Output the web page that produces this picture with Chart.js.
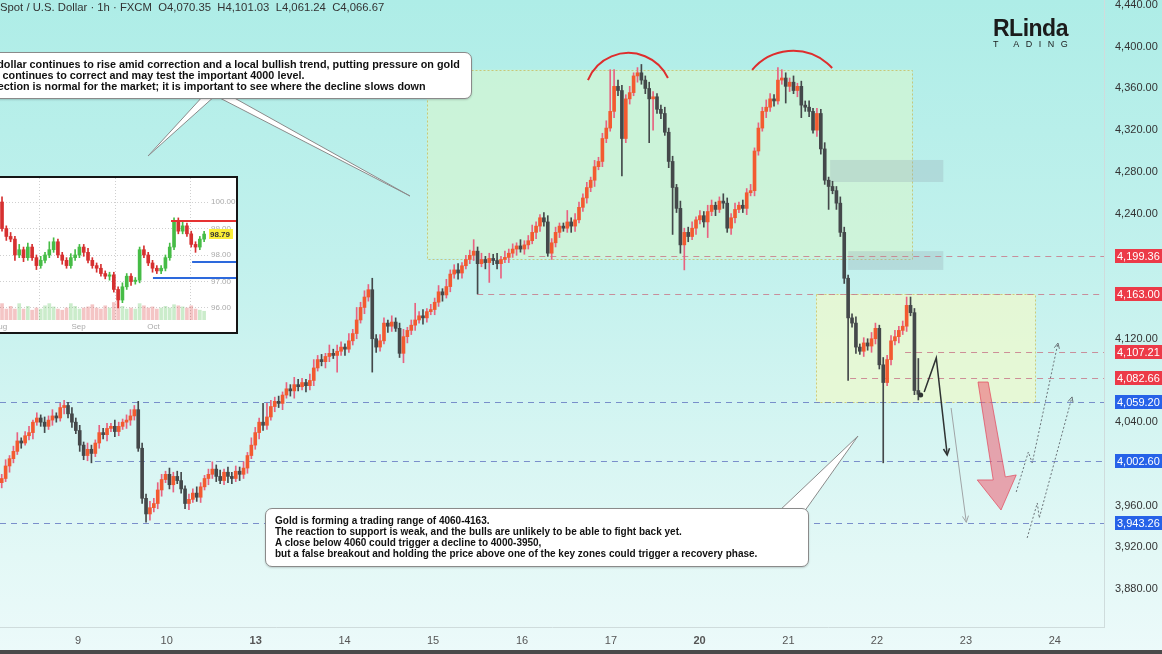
<!DOCTYPE html>
<html>
<head>
<meta charset="utf-8">
<script src="https://cdn.jsdelivr.net/npm/chart.js@4.4.1/dist/chart.umd.min.js"></script>
<style>
html, body { margin: 0; padding: 0; }
body {
    width: 1162px; height: 654px; overflow: hidden; position: relative;
    background: linear-gradient(180deg, #aeede7 0%, #c2f1ed 40%, #e3f8f6 85%, #ecfafa 100%);
    font-family: Arial, "Liberation Sans", sans-serif;
}
#main { position: absolute; left: 0; top: 0; }
#title { position: absolute; left: 0; top: 1px; font-size: 11.3px; color: #333; white-space: pre; }
.callout {
    position: absolute; background: #fff; border: 1px solid #8a8a8a; border-radius: 7px;
    box-shadow: 0 1px 2px rgba(0,0,0,0.18); font-weight: bold; line-height: 11px;
    color: #111; white-space: pre;
}
#note1 { left: -35px; top: 52px; width: 487px; height: 33px; padding: 6px 9px 6px 9px; font-size: 10.8px; }
#note2 { left: 265px; top: 508px; width: 524px; height: 44px; padding: 6px 9px 7px 9px; font-size: 10px; }
#inset { position: absolute; left: -2px; top: 176px; width: 236px; height: 154px; border: 2px solid #151515; background: #fff; }
#inset canvas { position: absolute; left: 0; top: 0; }
#logo { position: absolute; left: 993px; top: 15px; color: #1b1b1b; }
#logo .big { font-size: 23px; font-weight: bold; letter-spacing: -0.5px; }
#logo .small { font-size: 9px; letter-spacing: 6.5px; margin-top: -3px; }
#strip { position: absolute; left: 0; top: 650px; width: 1162px; height: 4px; background: #4a4a4a; }
</style>
</head>
<body>
<canvas id="main" width="1162" height="654"></canvas>
<div id="title">Spot / U.S. Dollar · 1h · FXCM  O4,070.35  H4,101.03  L4,061.24  C4,066.67</div>
<div id="inset"><canvas id="dxy" width="236" height="154"></canvas></div>
<div class="callout" id="note1">The dollar continues to rise amid correction and a local bullish trend, putting pressure on gold
Gold continues to correct and may test the important 4000 level.
Correction is normal for the market; it is important to see where the decline slows down</div>
<div class="callout" id="note2">Gold is forming a trading range of 4060-4163.
The reaction to support is weak, and the bulls are unlikely to be able to fight back yet.
A close below 4060 could trigger a decline to 4000-3950,
but a false breakout and holding the price above one of the key zones could trigger a recovery phase.</div>
<div id="logo"><div class="big">RLinda</div><div class="small">T  ADING</div></div>
<div id="strip"></div>

<script>
// hourly candles, index 0 = first bar of the 9th
const startIndex = -17;
const firstOpen = 3982;
const closes = [
    3986, 3998, 4005, 4012, 4022, 4020, 4027, 4030, 4040, 4044,
    4040, 4036, 4042, 4046, 4044, 4054, 4056, 4048, 4040, 4032,
    4018, 4008, 4014, 4010, 4020, 4030, 4028, 4034, 4036, 4031,
    4036, 4040, 4042, 4046, 4052, 4015, 3967, 3952, 3958, 3962,
    3975, 3985, 3990, 3980, 3988, 3984, 3976, 3962, 3966, 3972,
    3968, 3978, 3986, 3990, 3995, 3988, 3984, 3992, 3988, 3986,
    3993, 3990, 3996, 4008, 4018, 4030, 4040, 4037, 4045, 4055,
    4060, 4058, 4066, 4072, 4070, 4076, 4074, 4078, 4075, 4080,
    4092, 4100, 4098, 4103, 4106, 4104, 4108, 4112, 4110, 4118,
    4125, 4138, 4150, 4160, 4167, 4120, 4112, 4118, 4135, 4132,
    4136, 4130, 4106, 4122, 4128, 4133, 4138, 4142, 4140, 4146,
    4148, 4155, 4165, 4162, 4170, 4182, 4186, 4183, 4190, 4196,
    4200, 4204, 4192, 4196, 4193, 4197, 4195, 4192, 4196, 4198,
    4202, 4206, 4209, 4206, 4210, 4214, 4222, 4228, 4236, 4232,
    4202, 4212, 4222, 4228, 4226, 4232, 4228, 4234, 4246, 4255,
    4265, 4272, 4285, 4290, 4312, 4322, 4338, 4362, 4358, 4312,
    4350, 4356, 4372, 4375, 4368, 4360, 4350, 4352, 4340, 4336,
    4318, 4290, 4265, 4245, 4210, 4222, 4218, 4226, 4234, 4238,
    4232, 4242, 4248, 4244, 4252, 4250, 4226, 4236, 4244, 4248,
    4245, 4260, 4262, 4300, 4322, 4338, 4342, 4350, 4348, 4368,
    4370, 4362, 4366, 4358, 4362, 4344, 4342, 4338, 4320, 4336,
    4302, 4272, 4266, 4262, 4250, 4222, 4178, 4140, 4135, 4112,
    4108, 4116, 4113, 4120, 4130, 4095, 4078, 4100, 4118, 4122,
    4128, 4132, 4152, 4145, 4070.35, 4066.67
];
// wick length above the body top / below the body bottom
const wickUp = [
    4, 6, 3, 5, 8, 3, 4, 6, 2, 5,   3, 5, 4, 6, 3, 4, 5, 3, 6, 4,
    5, 3, 6, 4, 3, 7, 4, 5, 3, 6,   4, 3, 5, 6, 4, 8, 5, 4, 6, 5,
    7, 5, 3, 6, 4, 5, 8, 3, 5, 4,   6, 4, 3, 5, 7, 4, 6, 3, 5, 4,
    5, 4, 6, 3, 7, 5, 4, 18, 13, 6, 4, 5, 3, 6, 4, 7, 5, 4, 3, 6,
    8, 4, 5, 3, 8, 4, 6, 5, 3, 7,   4, 12, 5, 6, 5, 11, 4, 6, 5, 3,
    6, 4, 5, 7, 3, 5, 16, 4, 6, 3,  5, 4, 6, 3, 7, 4, 5, 6, 3, 4,
    5, 11, 4, 6, 3, 5, 4, 7, 3, 6,  4, 5, 3, 6, 4, 5, 7, 4, 3, 5,
    6, 4, 5, 3, 3, 11, 4, 6, 5, 4,  5, 3, 6, 4, 5, 7, 40, 16, 6, 5,
    4, 6, 3, 5, 8, 4, 6, 5, 3, 4,   6, 4, 5, 3, 7, 4, 5, 6, 3, 5,
    4, 6, 5, 3, 4, 7, 5, 4, 6, 3,   5, 4, 6, 3, 5, 4, 7, 5, 4, 12,
    8, 5, 4, 6, 3, 5, 4, 6, 3, 5,   4, 6, 3, 5, 4, 6, 5, 3, 4, 6,
    3, 5, 4, 6, 5, 3, 7, 4, 5, 6,   4, 5, 8, 8, 4, 30.7
];
const wickDown = [
    5, 3, 6, 4, 3, 5, 2, 4, 6, 3,   4, 6, 3, 5, 4, 3, 6, 4, 5, 3,
    6, 4, 5, 9, 3, 5, 4, 6, 3, 5,   4, 3, 6, 5, 4, 3, 5, 8, 6, 4,
    5, 6, 3, 4, 7, 3, 4, 5, 6, 3,   4, 5, 3, 6, 4, 5, 3, 4, 6, 5,
    3, 6, 4, 5, 3, 4, 6, 5, 4, 3,   5, 4, 6, 3, 5, 7, 4, 3, 6, 4,
    5, 3, 4, 6, 5, 3, 16, 4, 6, 3,  4, 5, 3, 6, 4, 32, 5, 4, 3, 6,
    5, 3, 4, 9, 6, 4, 5, 3, 6, 4,   3, 5, 4, 6, 3, 5, 4, 6, 5, 3,
    4, 5, 29, 3, 6, 19, 4, 5, 14, 3, 5, 4, 6, 3, 5, 4, 3, 6, 5, 4,
    3, 6, 4, 5, 3, 4, 6, 5, 3, 4,   5, 4, 6, 3, 5, 4, 3, 6, 5, 36,
    4, 5, 3, 6, 4, 5, 42, 30, 4, 5, 3, 6, 45, 4, 8, 24, 5, 3, 6, 4,
    5, 15, 4, 6, 3, 5, 4, 6, 5, 3,  4, 6, 3, 5, 4, 3, 6, 4, 5, 3,
    4, 16, 5, 3, 6, 12, 4, 5, 3, 6, 5, 4, 22, 3, 6, 4, 5, 60, 4, 6,
    3, 5, 4, 6, 5, 4, 77, 3, 5, 4,  6, 4, 5, 3, 4, 5.4
];

// axis
const dayLabels = ['9', '10', '13', '14', '15', '16', '17', '20', '21', '22', '23', '24'];
const dayTicks = [2.6, 25.3, 48.1, 70.9, 93.6, 116.4, 139.2, 161.9, 184.7, 207.4, 230.2, 253.0];
const boldDays = ['13', '20'];
const priceTicks = [3880, 3920, 3960, 4000, 4040, 4080, 4120, 4160, 4200, 4240, 4280, 4320, 4360, 4400, 4440];
const hiddenPriceTicks = [4200, 4160, 4080, 4000];
const xMin = -17.44, xMax = 265.6;
const yMin = 3843.6, yMax = 4444.8;

// drawn levels and zones
const levels = [
    { price: 4199.36, from: 118, kind: 'red' },
    { price: 4163.00, from: 104.9, kind: 'red' },
    { price: 4107.21, from: 214.6, kind: 'red' },
    { price: 4082.66, from: 200.5, kind: 'red' },
    { price: 4059.20, from: xMin, kind: 'blue' },
    { price: 4002.60, from: 6.9, kind: 'blue' },
    { price: 3943.26, from: xMin, kind: 'blue' }
];
const zoneBounds = [
    { from: 92, to: 216.4, top: 4378, bottom: 4197, fill: 'rgba(214,246,206,0.62)', line: 'rgba(200,195,110,0.9)' },
    { from: 191.8, to: 248, top: 4163, bottom: 4059, fill: 'rgba(236,249,206,0.78)', line: 'rgba(205,200,110,0.9)' },
    { from: 195.4, to: 224.4, top: 4291.4, bottom: 4270.3, fill: 'rgba(150,168,178,0.3)' },
    { from: 200, to: 224.4, top: 4204, bottom: 4186, fill: 'rgba(150,168,178,0.3)' }
];
const topArcs = [
    [[133.3, 4368], [143.6, 4394], [153.8, 4370]],
    [[175.4, 4377.7], [185.6, 4396], [195.9, 4379.6]]
];
const blackPath = [[219.5, 4069], [222.6, 4101.6], [225.4, 4008.6]];
const lastDot = [218.6, 4066];
const grayPath = [[226.4, 4053.6], [230.3, 3944]];
const dottedPaths = [
    [[243.1, 3973.1], [246.2, 4011.4], [247.2, 4000.9], [253.8, 4115.9]],
    [[245.9, 3929], [248.5, 3962.5], [249.0, 3948.1], [257.4, 4064.2]]
];
const pinkArrow = [[233.3, 4078.5], [235.9, 4078.5], [240.3, 3987.5], [243.1, 3989.4], [239.2, 3955.8], [233.1, 3984.6], [237.2, 3984.6]];

// DXY inset (daily)
const dxyFirstOpen = 100.0;
const dxyCloses = [
    99.0, 98.7, 98.6, 98.0, 98.2, 97.9, 98.3, 97.9, 97.6, 97.8,
    98.0, 98.2, 98.5, 98.0, 97.8, 97.6, 97.9, 98.0, 98.3, 98.1,
    97.8, 97.6, 97.5, 97.3, 97.2, 97.25, 96.7, 96.3, 96.8, 97.2,
    97.0, 97.05, 98.2, 98.0, 97.7, 97.5, 97.4, 97.5, 97.9, 98.3,
    99.3, 98.9, 99.1, 98.8, 98.4, 98.3, 98.6, 98.79
];
const dxyWickUp = [
    0.2, 0.1, 0.15, 0.1, 0.2, 0.1, 0.15, 0.1, 0.1, 0.15, 0.1, 0.3, 0.15, 0.1, 0.1, 0.1, 0.15, 0.2, 0.1, 0.1,
    0.15, 0.1, 0.1, 0.15, 0.1, 0.1, 0.1, 0.1, 0.15, 0.1, 0.1, 0.1, 0.1, 0.15, 0.1, 0.1, 0.1, 0.1, 0.1, 0.15,
    0.1, 0.1, 0.15, 0.1, 0.1, 0.1, 0.1, 0.1
];
const dxyWickDown = [
    0.1, 0.15, 0.1, 0.2, 0.1, 0.15, 0.1, 0.1, 0.15, 0.1, 0.1, 0.1, 0.1, 0.1, 0.15, 0.1, 0.1, 0.1, 0.1, 0.15,
    0.1, 0.1, 0.15, 0.1, 0.1, 0.15, 0.1, 0.3, 0.1, 0.1, 0.15, 0.1, 0.1, 0.1, 0.1, 0.15, 0.1, 0.1, 0.1, 0.1,
    0.1, 0.1, 0.1, 0.1, 0.1, 0.2, 0.1, 0.1
];
const dxyVolumes = [
    3, 2, 2.5, 2, 3, 2, 2.5, 1.8, 2.2, 2, 2.6, 3, 2.4, 2, 1.8, 2.2, 3, 2.5, 2, 2.2,
    2.4, 2.8, 2.2, 2, 2.6, 2.2, 3.2, 3.5, 2.5, 2, 2.2, 2, 3, 2.6, 2.2, 2.4, 2, 2.2, 2.5, 2.2,
    2.8, 2.6, 2.4, 2.2, 2.6, 2, 1.8, 1.6
];
const monthLabels = ['Aug', 'Sep', 'Oct'];
const monthTicks = [-0.45, 17.8, 35.2];
const dxyTicks = [96, 97, 98, 99, 100];
const dxyLines = [
    { value: 99.29, from: 39.3, color: 'rgb(230,50,50)' },
    { value: 97.75, from: 44.2, color: 'rgb(45,105,220)' },
    { value: 97.14, from: 35.1, color: 'rgb(45,105,220)' }
];

// build candle bars from OHLC
function buildCandles(first, cl, up, down, x0, upBody, downBody, upWick, downWick) {
    const bodies = [], wicks = [], bodyColors = [], wickColors = [];
    cl.forEach((c, k) => {
        const o = k === 0 ? first : cl[k - 1];
        const rising = c >= o;
        bodies.push({ x: x0 + k, y: [o, c] });
        wicks.push({ x: x0 + k, y: [Math.min(o, c) - down[k], Math.max(o, c) + up[k]] });
        bodyColors.push(rising ? upBody : downBody);
        wickColors.push(rising ? upWick : downWick);
    });
    return { bodies, wicks, bodyColors, wickColors };
}

function fmtPrice(v) {
    return v.toLocaleString('en-US', { minimumFractionDigits: 2, maximumFractionDigits: 2 });
}

// no extra room for edge labels, the plot fills the canvas
function noPadding(axis) {
    axis.paddingTop = 0; axis.paddingBottom = 0; axis.paddingLeft = 0; axis.paddingRight = 0;
}

function drawArrowHead(ctx, fx, fy, tx, ty, len) {
    const ang = Math.atan2(ty - fy, tx - fx);
    ctx.beginPath();
    ctx.moveTo(tx - len * Math.cos(ang - 0.45), ty - len * Math.sin(ang - 0.45));
    ctx.lineTo(tx, ty);
    ctx.lineTo(tx - len * Math.cos(ang + 0.45), ty - len * Math.sin(ang + 0.45));
    ctx.stroke();
}

// circle through three pixel points
function circleThrough(a, b, c) {
    const d = 2 * (a[0] * (b[1] - c[1]) + b[0] * (c[1] - a[1]) + c[0] * (a[1] - b[1]));
    const sa = a[0] * a[0] + a[1] * a[1], sb = b[0] * b[0] + b[1] * b[1], sc = c[0] * c[0] + c[1] * c[1];
    const ux = (sa * (b[1] - c[1]) + sb * (c[1] - a[1]) + sc * (a[1] - b[1])) / d;
    const uy = (sa * (c[0] - b[0]) + sb * (a[0] - c[0]) + sc * (b[0] - a[0])) / d;
    return { x: ux, y: uy, r: Math.hypot(a[0] - ux, a[1] - uy) };
}

const drawings = {
    id: 'drawings',
    beforeDatasetsDraw(chart) {
        const { ctx, chartArea: a, scales: { x, y } } = chart;
        ctx.save();
        ctx.beginPath();
        ctx.rect(a.left, a.top, a.right - a.left, a.bottom - a.top);
        ctx.clip();
        zoneBounds.forEach(z => {
            const x0 = x.getPixelForValue(z.from), x1 = x.getPixelForValue(z.to);
            const y0 = y.getPixelForValue(z.top), y1 = y.getPixelForValue(z.bottom);
            ctx.fillStyle = z.fill;
            ctx.fillRect(x0, y0, x1 - x0, y1 - y0);
            if (z.line) {
                ctx.setLineDash([2, 2]);
                ctx.strokeStyle = z.line;
                ctx.lineWidth = 1;
                ctx.strokeRect(Math.round(x0) + 0.5, Math.round(y0) + 0.5, Math.round(x1 - x0), Math.round(y1 - y0));
                ctx.setLineDash([]);
            }
        });
        levels.forEach(l => {
            const yy = Math.round(y.getPixelForValue(l.price)) + 0.5;
            ctx.strokeStyle = l.kind === 'red' ? 'rgba(200,125,140,0.85)' : 'rgba(105,125,195,0.85)';
            ctx.lineWidth = 1;
            ctx.setLineDash([6, 5]);
            ctx.beginPath();
            ctx.moveTo(x.getPixelForValue(l.from), yy);
            ctx.lineTo(a.right, yy);
            ctx.stroke();
        });
        ctx.restore();
    },
    afterDatasetsDraw(chart) {
        const { ctx, scales: { x, y } } = chart;
        const P = pt => [x.getPixelForValue(pt[0]), y.getPixelForValue(pt[1])];
        ctx.save();

        // red arcs above the two tops
        ctx.strokeStyle = 'rgb(222,45,45)';
        ctx.lineWidth = 2;
        topArcs.forEach(arc => {
            const [p0, p1, p2] = arc.map(P);
            const c = circleThrough(p0, p1, p2);
            ctx.beginPath();
            ctx.arc(c.x, c.y, c.r, Math.atan2(p0[1] - c.y, p0[0] - c.x), Math.atan2(p2[1] - c.y, p2[0] - c.x));
            ctx.stroke();
        });

        // pink forecast arrow
        ctx.beginPath();
        pinkArrow.map(P).forEach((p, k) => k ? ctx.lineTo(p[0], p[1]) : ctx.moveTo(p[0], p[1]));
        ctx.closePath();
        ctx.fillStyle = 'rgba(238,95,115,0.55)';
        ctx.fill();
        ctx.strokeStyle = 'rgba(225,70,90,0.7)';
        ctx.lineWidth = 1;
        ctx.stroke();

        // black path
        const bp = blackPath.map(P);
        ctx.strokeStyle = '#2f3333';
        ctx.lineWidth = 1.5;
        ctx.beginPath();
        bp.forEach((p, k) => k ? ctx.lineTo(p[0], p[1]) : ctx.moveTo(p[0], p[1]));
        ctx.stroke();
        drawArrowHead(ctx, bp[1][0], bp[1][1], bp[2][0], bp[2][1], 7);
        const d = P(lastDot);
        ctx.fillStyle = '#2f3333';
        ctx.beginPath();
        ctx.arc(d[0], d[1], 2.5, 0, Math.PI * 2);
        ctx.fill();

        // gray path
        const gp = grayPath.map(P);
        ctx.strokeStyle = '#a0a4a6';
        ctx.lineWidth = 1;
        ctx.beginPath();
        ctx.moveTo(gp[0][0], gp[0][1]);
        ctx.lineTo(gp[1][0], gp[1][1]);
        ctx.stroke();
        drawArrowHead(ctx, gp[0][0], gp[0][1], gp[1][0], gp[1][1], 7);

        // dotted recovery paths
        ctx.strokeStyle = '#6b7378';
        dottedPaths.forEach(path => {
            const pp = path.map(P);
            ctx.setLineDash([2, 2]);
            ctx.beginPath();
            pp.forEach((p, k) => k ? ctx.lineTo(p[0], p[1]) : ctx.moveTo(p[0], p[1]));
            ctx.stroke();
            ctx.setLineDash([]);
            const n = pp.length;
            drawArrowHead(ctx, pp[n - 2][0], pp[n - 2][1], pp[n - 1][0], pp[n - 1][1], 6);
        });

        // callout pointers (bases sit under the html boxes)
        const wedges = [
            [[204, 95], [216, 95], [148, 156]],
            [[214, 95], [229, 95], [410, 196]],
            [[778, 512], [804, 512], [858, 436]]
        ];
        ctx.fillStyle = '#fff';
        ctx.strokeStyle = '#8a8a8a';
        ctx.lineWidth = 1;
        wedges.forEach(w => {
            ctx.beginPath();
            ctx.moveTo(w[0][0], w[0][1]);
            ctx.lineTo(w[2][0], w[2][1]);
            ctx.lineTo(w[1][0], w[1][1]);
            ctx.closePath();
            ctx.fill();
            ctx.stroke();
        });
        ctx.restore();
    },
    afterDraw(chart) {
        const { ctx, scales: { y } } = chart;
        ctx.save();
        ctx.font = '11px Arial';
        ctx.textBaseline = 'middle';
        levels.forEach(l => {
            const yy = Math.round(y.getPixelForValue(l.price));
            ctx.fillStyle = l.kind === 'red' ? 'rgb(236,58,72)' : 'rgb(38,98,232)';
            ctx.fillRect(y.left + 11, yy - 7, 60, 14);
            ctx.fillStyle = '#fff';
            ctx.fillText(fmtPrice(l.price), y.left + 13, yy + 0.5);
        });
        ctx.restore();
    }
};

const gold = buildCandles(firstOpen, closes, wickUp, wickDown, startIndex,
    'rgb(243,90,48)', 'rgb(68,72,74)', 'rgb(232,98,128)', 'rgb(68,72,74)');

new Chart(document.getElementById('main'), {
    type: 'bar',
    data: {
        datasets: [
            { label: 'body', data: gold.bodies, backgroundColor: gold.bodyColors, borderWidth: 0, barThickness: 3, minBarLength: 1, grouped: false, order: 0 },
            { label: 'wick', data: gold.wicks, backgroundColor: gold.wickColors, borderWidth: 0, barThickness: 1, grouped: false, order: 1 }
        ]
    },
    options: {
        responsive: false,
        animation: false,
        devicePixelRatio: 1,
        layout: { padding: 0 },
        plugins: { legend: { display: false }, tooltip: { enabled: false } },
        scales: {
            x: {
                type: 'linear', min: xMin, max: xMax, offset: false,
                grid: { display: false, drawTicks: false },
                border: { display: true, color: '#cfdcdc' },
                afterBuildTicks: axis => { axis.ticks = dayTicks.map(v => ({ value: v })); },
                afterFit: axis => { axis.height = 27; noPadding(axis); },
                ticks: {
                    autoSkip: false, maxRotation: 0, padding: 7, color: '#555',
                    font: c => ({ family: 'Arial', size: 11, weight: boldDays.includes(dayLabels[c.index]) ? 'bold' : 'normal' }),
                    callback: (v, i) => dayLabels[i]
                }
            },
            y: {
                position: 'right', min: yMin, max: yMax,
                grid: { display: false, drawTicks: false },
                border: { display: true, color: '#cfdcdc' },
                afterBuildTicks: axis => { axis.ticks = priceTicks.map(v => ({ value: v })); },
                afterFit: axis => { axis.width = 58; noPadding(axis); },
                ticks: {
                    padding: 11, color: '#333',
                    font: { family: 'Arial', size: 11 },
                    callback: v => hiddenPriceTicks.includes(v) ? '' : fmtPrice(v)
                }
            }
        }
    },
    plugins: [drawings]
});

// DXY inset
const dxy = buildCandles(dxyFirstOpen, dxyCloses, dxyWickUp, dxyWickDown, 0,
    'rgb(70,188,70)', 'rgb(214,48,48)', 'rgb(70,188,70)', 'rgb(214,48,48)');
const dxyVolBars = dxyVolumes.map((v, k) => ({ x: k, y: v }));
const dxyVolColors = dxy.bodyColors.map(c => c.replace('rgb', 'rgba').replace(')', ',0.28)'));

const dxyDrawings = {
    id: 'dxyDrawings',
    afterDatasetsDraw(chart) {
        const { ctx, scales: { x, y } } = chart;
        ctx.save();
        ctx.lineWidth = 2;
        dxyLines.forEach(l => {
            const yy = Math.round(y.getPixelForValue(l.value));
            ctx.strokeStyle = l.color;
            ctx.beginPath();
            ctx.moveTo(x.getPixelForValue(l.from), yy);
            ctx.lineTo(chart.width, yy);
            ctx.stroke();
        });
        const last = dxyCloses[dxyCloses.length - 1];
        const yy = Math.round(y.getPixelForValue(last));
        ctx.fillStyle = 'rgb(250,238,55)';
        ctx.fillRect(y.left + 1, yy - 5, 24, 10);
        ctx.fillStyle = '#333';
        ctx.font = 'bold 8px Arial';
        ctx.textBaseline = 'middle';
        ctx.fillText(last.toFixed(2), y.left + 2, yy + 0.5);
        ctx.restore();
    }
};

new Chart(document.getElementById('dxy'), {
    type: 'bar',
    data: {
        datasets: [
            { data: dxy.bodies, backgroundColor: dxy.bodyColors, borderWidth: 0, barThickness: 3, minBarLength: 1, grouped: false, order: 0 },
            { data: dxy.wicks, backgroundColor: dxy.wickColors, borderWidth: 0, barThickness: 1, grouped: false, order: 1 },
            { data: dxyVolBars, backgroundColor: dxyVolColors, borderWidth: 0, barThickness: 3, grouped: false, order: 2, yAxisID: 'vol' }
        ]
    },
    options: {
        responsive: false,
        animation: false,
        devicePixelRatio: 1,
        layout: { padding: 0 },
        plugins: { legend: { display: false }, tooltip: { enabled: false } },
        scales: {
            x: {
                type: 'linear', min: -0.47, max: 47.9, offset: false,
                grid: { display: true, drawTicks: false, color: '#cfcfcf' },
                border: { display: false, dash: [1, 2] },
                afterBuildTicks: axis => { axis.ticks = monthTicks.map(v => ({ value: v })); },
                afterFit: axis => { axis.height = 12; noPadding(axis); },
                ticks: { autoSkip: false, maxRotation: 0, padding: 2, color: '#aaa', font: { family: 'Arial', size: 8 }, callback: (v, i) => monthLabels[i] }
            },
            y: {
                position: 'right', min: 95.547, max: 100.906,
                grid: { display: true, drawTicks: false, color: '#cfcfcf' },
                border: { display: false, dash: [1, 2] },
                afterBuildTicks: axis => { axis.ticks = dxyTicks.map(v => ({ value: v })); },
                afterFit: axis => { axis.width = 28; noPadding(axis); },
                ticks: { padding: 3, color: '#aaa', font: { family: 'Arial', size: 8 }, callback: v => v.toFixed(2) }
            },
            vol: { display: false, min: 0, max: 26 }
        }
    },
    plugins: [dxyDrawings]
});
</script>
</body>
</html>
